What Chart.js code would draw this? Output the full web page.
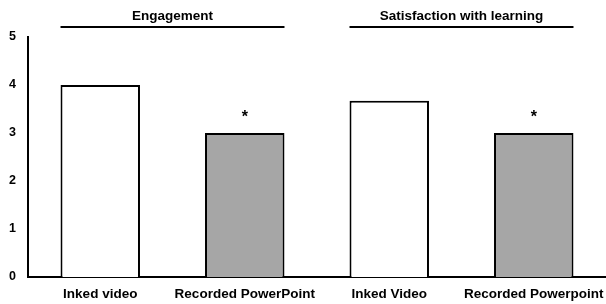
<!DOCTYPE html>
<html>
<head>
<meta charset="utf-8">
<script src="https://cdn.jsdelivr.net/npm/chart.js@4"></script>
<style>
  html, body { margin: 0; padding: 0; background: #fff; }
  #wrap { width: 606px; height: 304px; }
</style>
</head>
<body>
<div id="wrap"><canvas id="chart"></canvas></div>
<script>
const categories = ['Inked video', 'Recorded PowerPoint', 'Inked Video', 'Recorded Powerpoint'];
const scores = [4.0, 3.0, 3.67, 3.0];
const barColors = ['#ffffff', '#a6a6a6', '#ffffff', '#a6a6a6'];
const marks = ['', '*', '', '*'];
const groupLabels = ['Engagement', 'Satisfaction with learning'];
const groupFirst = [0, 2];
const groupLast = [1, 3];
const yTicks = [0, 1, 2, 3, 4, 5];

const FONT = '"Liberation Sans", Arial, sans-serif';

// group headers with a rule under them, plus the significance stars
const extras = {
    id: 'extras',
    afterDatasetsDraw(chart) {
        const ctx = chart.ctx;
        const bars = chart.getDatasetMeta(0).data;
        const y = chart.scales.y;
        ctx.save();
        ctx.fillStyle = '#000';
        ctx.strokeStyle = '#000';
        ctx.textAlign = 'center';
        ctx.textBaseline = 'middle';

        for (let g = 0; g < groupLabels.length; g++) {
            const a = bars[groupFirst[g]];
            const b = bars[groupLast[g]];
            const x0 = a.x - a.width / 2;
            const x1 = b.x + b.width / 2;
            ctx.lineWidth = 2;
            ctx.beginPath();
            ctx.moveTo(x0, 27);
            ctx.lineTo(x1, 27);
            ctx.stroke();
            ctx.font = 'bold 13.5px ' + FONT;
            ctx.fillText(groupLabels[g], (x0 + x1) / 2, 16);
        }

        ctx.font = 'bold 16px ' + FONT;
        marks.forEach((m, i) => {
            if (!m) return;
            const py = y.getPixelForValue(scores[i]);
            ctx.fillText(m, bars[i].x, py - 15);
        });
        ctx.restore();
    }
};

new Chart(document.getElementById('chart'), {
    type: 'bar',
    data: {
        labels: categories,
        datasets: [{
            data: scores,
            backgroundColor: barColors,
            borderColor: '#000',
            borderWidth: 2,
            categoryPercentage: 1,
            barPercentage: 0.55
        }]
    },
    options: {
        responsive: true,
        maintainAspectRatio: false,
        animation: false,
        layout: { padding: { top: 37, left: 8, right: -5, bottom: 0 } },
        plugins: {
            legend: { display: false },
            tooltip: { enabled: false }
        },
        scales: {
            x: {
                afterFit(scale) {
                    scale.height = 27;
                    scale.paddingLeft = 0;
                    scale.paddingRight = 0;
                },
                grid: { display: false, drawTicks: false },
                border: { display: true, color: '#000', width: 2 },
                ticks: {
                    color: '#000',
                    padding: 9,
                    maxRotation: 0,
                    autoSkip: false,
                    font: { family: FONT, size: 13.5, weight: 'bold' }
                }
            },
            y: {
                min: 0,
                max: 5,
                afterBuildTicks(scale) {
                    scale.ticks = yTicks.map(v => ({ value: v }));
                },
                afterFit(scale) { scale.width = 20; },
                grid: { display: false, drawTicks: false },
                border: { display: true, color: '#000', width: 2 },
                ticks: {
                    color: '#000',
                    padding: 12,
                    font: { family: FONT, size: 12.5, weight: 'bold' }
                }
            }
        }
    },
    plugins: [extras]
});
</script>
</body>
</html>
